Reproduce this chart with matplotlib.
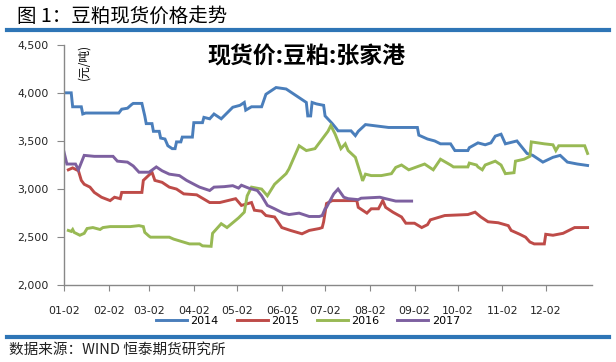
import matplotlib
matplotlib.use("Agg")
import matplotlib.pyplot as plt
from matplotlib.lines import Line2D

plt.rcParams['font.family'] = ['Noto Sans CJK SC', 'DejaVu Sans']

# 日期轴: 以 1 月 2 日为第 0 天
tick_days = [0, 31, 59, 90, 120, 151, 181, 212, 243, 273, 304, 334]
tick_labels = ["01-02", "02-02", "03-02", "04-02", "05-02", "06-02",
               "07-02", "08-02", "09-02", "10-02", "11-02", "12-02"]
y_ticks = [2000, 2500, 3000, 3500, 4000, 4500]

# 2014
d2014 = [0, 5, 6, 12, 13, 15, 38, 40, 44, 47, 48, 54, 56, 57, 61, 62, 66, 67, 70, 72,
         75, 77, 78, 81, 82, 89, 90, 96, 97, 101, 104, 109, 111, 117, 122, 125, 126, 130,
         137, 140, 147, 154, 161, 166, 168, 169, 171, 172, 175, 180, 181, 186, 189, 190,
         199, 202, 204, 209, 225, 232, 245, 246, 252, 257, 261, 268, 271, 280, 281, 287,
         292, 296, 299, 303, 306, 314, 321, 325, 332, 339, 344, 349, 356, 363]
p2014 = [4000, 4000, 3855, 3855, 3780, 3790, 3790, 3830, 3840, 3880, 3890, 3890, 3760,
         3680, 3680, 3600, 3600, 3530, 3520, 3450, 3420, 3420, 3490, 3490, 3540, 3540,
         3690, 3690, 3745, 3730, 3780, 3730, 3760, 3850, 3870, 3900, 3820, 3855, 3855,
         3985, 4055, 4040, 3970, 3920, 3900, 3760, 3760, 3900, 3885, 3870, 3760, 3680,
         3625, 3605, 3605, 3555, 3600, 3670, 3640, 3640, 3640, 3560, 3520, 3500, 3470,
         3470, 3400, 3400, 3430, 3480, 3460, 3480, 3550, 3570, 3470, 3500, 3370, 3350,
         3280, 3330, 3350, 3280, 3260, 3245]

# 2015
d2015 = [3, 6, 10, 12, 14, 18, 21, 26, 32, 35, 39, 40, 54, 55, 61, 63, 68, 73, 78, 80,
         83, 92, 101, 108, 119, 123, 130, 132, 137, 140, 146, 151, 157, 165, 170, 177,
         179, 180, 182, 186, 203, 204, 210, 213, 218, 221, 223, 228, 234, 237, 243, 248,
         252, 254, 264, 280, 285, 289, 294, 301, 308, 310, 316, 320, 323, 326, 333, 334,
         339, 346, 354, 363]
p2015 = [3200, 3220, 3190, 3090, 3050, 3020, 2965, 2915, 2880, 2915, 2900, 2965, 2965,
         3090, 3175, 3090, 3070, 3020, 3000, 2980, 2950, 2940, 2860, 2860, 2900, 2830,
         2860, 2780, 2770, 2725, 2710, 2600, 2570, 2535, 2570, 2590, 2600, 2660, 2850,
         2880, 2880, 2810, 2750, 2795, 2795, 2880, 2810, 2760, 2710, 2645, 2645, 2600,
         2630, 2680, 2725, 2735, 2760, 2710, 2660, 2650, 2620, 2570, 2530, 2500, 2450,
         2430, 2430, 2530, 2520, 2540, 2600, 2600]

# 2016
d2016 = [3, 5, 6, 7, 11, 14, 16, 20, 25, 27, 32, 46, 52, 55, 56, 59, 60, 73, 76, 87,
         94, 96, 102, 103, 109, 113, 121, 125, 127, 130, 137, 141, 146, 154, 156, 163,
         168, 174, 179, 183, 185, 188, 192, 195, 197, 202, 206, 207, 209, 213, 220, 227,
         230, 234, 239, 250, 256, 261, 268, 270, 280, 281, 286, 287, 290, 292, 299, 303,
         306, 312, 313, 319, 323, 324, 333, 339, 341, 343, 361, 363]
p2016 = [2570, 2560, 2580, 2550, 2520, 2540, 2590, 2600, 2580, 2600, 2610, 2610, 2620,
         2610, 2550, 2510, 2500, 2500, 2480, 2430, 2430, 2410, 2405, 2540, 2640, 2600,
         2700, 2760, 2930, 3020, 3000, 2930, 3050, 3160, 3210, 3450, 3400, 3420, 3520,
         3600, 3660, 3570, 3420, 3470, 3400, 3330, 3140, 3085, 3155, 3140, 3140, 3160,
         3225, 3250, 3200, 3260, 3200, 3310, 3250, 3230, 3230, 3270, 3250, 3230, 3200,
         3250, 3290, 3250, 3160, 3170, 3290, 3310, 3340, 3490, 3470, 3460, 3400, 3450,
         3450, 3370]

# 2017
d2017 = [0, 2, 8, 10, 14, 21, 34, 37, 44, 48, 52, 59, 64, 68, 73, 80, 85, 92, 94, 101,
         104, 111, 117, 121, 123, 128, 134, 137, 141, 146, 152, 156, 163, 170, 177, 179,
         181, 182, 187, 190, 194, 197, 204, 206, 219, 223, 230, 241]
p2017 = [3385, 3260, 3260, 3200, 3350, 3340, 3340, 3290, 3280, 3240, 3175, 3175, 3230,
         3190, 3155, 3140, 3090, 3035, 3020, 2985, 3020, 3025, 3035, 3010, 3040, 3010,
         2985, 2930, 2830, 2795, 2750, 2735, 2750, 2715, 2715, 2725, 2795, 2810, 2950,
         3000, 2915, 2900, 2890, 2905, 2915, 2900, 2875, 2875]

series = [("2014", d2014, p2014, "#4a7ebb"),
          ("2015", d2015, p2015, "#be4b48"),
          ("2016", d2016, p2016, "#98b954"),
          ("2017", d2017, p2017, "#7d60a0")]

fig = plt.figure(figsize=(6.16, 3.62), dpi=100)
ax = fig.add_axes([0.1039, 0.2119, 0.857, 0.6646])

for name, d, p, c in series:
    ax.plot(d, p, color=c, lw=2.1, label=name, solid_joinstyle="miter")

ax.set_xlim(0, 366)
ax.set_ylim(2000, 4500)
ax.set_xticks(tick_days)
ax.set_xticklabels(tick_labels, family="DejaVu Sans", fontsize=7.8, color="#222222")
ax.set_yticks(y_ticks)
ax.set_yticklabels([f"{v:,}" for v in y_ticks], family="DejaVu Sans", fontsize=7.8,
                   color="#222222")
ax.tick_params(axis="x", direction="out", length=4, color="#888888", pad=11)
ax.tick_params(axis="y", direction="out", length=5, color="#888888", pad=6)
for s in ["top", "right"]:
    ax.spines[s].set_visible(False)
for s in ["left", "bottom"]:
    ax.spines[s].set_color("#888888")
    ax.spines[s].set_linewidth(1.0)

# 单位
ax.text(0.038, 0.93, "(元/吨)", transform=ax.transAxes, rotation=90,
        ha="center", va="center", fontsize=8.5)

# 图内标题
fig.text(0.497, 0.842, "现货价:豆粕:张家港", ha="center", va="center",
         fontsize=16.5, fontweight="bold", color="black")

# 图例
handles = [Line2D([0], [0], color=c, lw=2.1) for _, _, _, c in series]
fig.legend(handles, [s[0] for s in series], loc="center", ncol=4,
           bbox_to_anchor=(0.5, 0.113), frameon=False, handlelength=2.8,
           handletextpad=0.3, columnspacing=1.6,
           prop={"family": "DejaVu Sans", "size": 8})

# 标题与分隔线
fig.text(0.027, 0.955, "图 1：豆粕现货价格走势", ha="left", va="center",
         fontsize=14, color="black")
fig.add_artist(Line2D([0.012, 0.988], [0.917, 0.917], color="#2e75b6", lw=3,
                      transform=fig.transFigure))
fig.add_artist(Line2D([0.012, 0.988], [0.070, 0.070], color="#2e75b6", lw=3,
                      transform=fig.transFigure))
fig.text(0.014, 0.033, "数据来源：WIND 恒泰期货研究所", ha="left", va="center",
         fontsize=10.5, color="#222222")

fig.savefig("out.png", dpi=100)
